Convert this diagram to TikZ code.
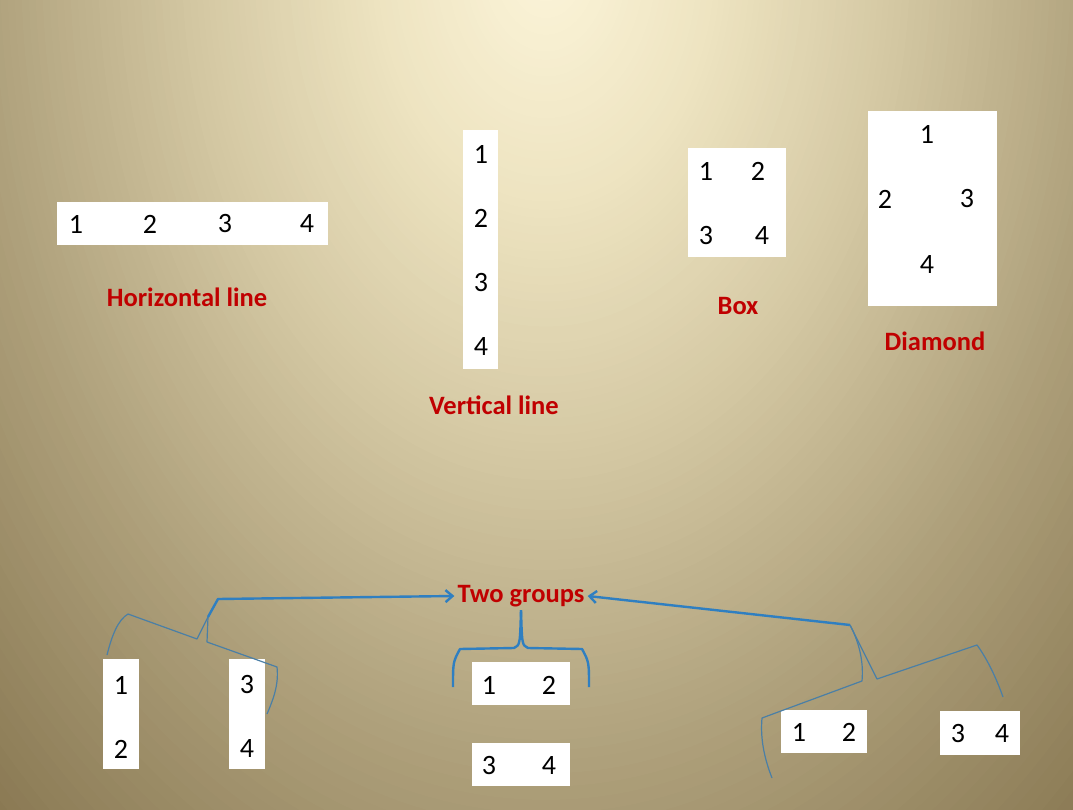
\documentclass[tikz,border=0pt]{standalone}
\usepackage{fontspec}
\setmainfont{Carlito}
\usetikzlibrary{arrows.meta}
\definecolor{bgA}{HTML}{FCF5DA}
\definecolor{bgB}{HTML}{EDE3C0}
\definecolor{bgC}{HTML}{D4C8A3}
\definecolor{bgD}{HTML}{AFA17C}
\definecolor{bgE}{HTML}{86754F}
\definecolor{capred}{HTML}{C00000}
\definecolor{linkblue}{HTML}{2F7FC1}
\definecolor{thinblue}{HTML}{4A7FA6}
\tikzset{
  num/.style={font=\fontsize{28}{32}\selectfont, inner sep=0pt},
  caption/.style={font=\bfseries\fontsize{26.5}{30}\selectfont, text=capred, inner sep=0pt},
  card/.style={fill=white, draw=none, inner sep=0pt},
  brace/.style={draw=thinblue, line width=1.2pt, line join=round},
  bigbrace/.style={draw=linkblue, line width=2.4pt, line join=round},
  link/.style={draw=linkblue, line width=2.4pt, line join=round, -{Straight Barb[length=7pt,width=12pt]}}
}
\begin{document}
\begin{tikzpicture}[x=1pt, y=-1pt]
      \useasboundingbox (0,0) rectangle (1073,810);
      \begin{scope}
        \clip (0,0) rectangle (1073,810);
        \fill[bgE] (0,0) rectangle (1073,810);
        \foreach \ra/\rb/\ca/\cb in {0.8/1.2/bgD/bgE, 0.5/0.8/bgC/bgD, 0.25/0.5/bgB/bgC, 0/0.25/bgA/bgB}{
          \foreach \i in {30,...,1}{
            \pgfmathsetmacro\rr{\ra+(\rb-\ra)*\i/30}
            \pgfmathtruncatemacro\mix{100*\i/30}
            \fill[color=\cb!\mix!\ca] (546,-40) ellipse [x radius=700*\rr, y radius=1000*\rr];
          }
        }
      \end{scope}
      \path
        (192.5,223.5) node[card, minimum width=271pt, minimum height=43pt] (hcard){}
        (480.5,249.5) node[card, minimum width=35pt, minimum height=239pt] (vcard){}
        (737,202.5) node[card, minimum width=98pt, minimum height=109pt] (bcard){}
        (932.5,208.5) node[card, minimum width=129pt, minimum height=195pt] (dcard){}
        (121,714) node[card, minimum width=36pt, minimum height=110pt] (lacard){}
        (247,714) node[card, minimum width=36pt, minimum height=110pt] (lbcard){}
        (521,683.5) node[card, minimum width=98pt, minimum height=43pt] (macard){}
        (521,764.5) node[card, minimum width=98pt, minimum height=43pt] (mbcard){}
        (824,731.5) node[card, minimum width=86pt, minimum height=43pt] (racard){}
        (980,733) node[card, minimum width=80pt, minimum height=44pt] (rbcard){};
      \path
        (76,224) node[num] (h1){1}
        (150,224) node[num] (h2){2}
        (225,224) node[num] (h3){3}
        (307,224) node[num] (h4){4}
        (481,154) node[num] (v1){1}
        (481,218) node[num] (v2){2}
        (481,283) node[num] (v3){3}
        (481,347) node[num] (v4){4}
        (706,171) node[num] (b1){1}
        (758,171) node[num] (b2){2}
        (706,236) node[num] (b3){3}
        (762,236) node[num] (b4){4}
        (927,134) node[num] (d1){1}
        (885,199) node[num] (d2){2}
        (967,199) node[num] (d3){3}
        (927,265) node[num] (d4){4}
        (121,685) node[num] (la1){1}
        (121,749) node[num] (la2){2}
        (247,685) node[num] (lb3){3}
        (247,749) node[num] (lb4){4}
        (489,685) node[num] (ma1){1}
        (549,685) node[num] (ma2){2}
        (489,766) node[num] (mb3){3}
        (549,766) node[num] (mb4){4}
        (799,732) node[num] (ra1){1}
        (849,732) node[num] (ra2){2}
        (958,734) node[num] (rb3){3}
        (1002,734) node[num] (rb4){4};
      \path
        (187,297) node[caption] (hlab){Horizontal line}
        (494,405) node[caption] (vlab){Vertical line}
        (738,306) node[caption] (blab){Box}
        (935,341) node[caption] (dlab){Diamond}
        (521,596) node[caption, inner sep=3pt] (two){Two groups};
      \coordinate (ltip) at (208,617);
      \coordinate (lbend) at (218,599);
      \coordinate (rtip) at (850,625);
      \begin{scope}
        \draw[brace] (107,655) .. controls (112,635) and (118,620) .. (128,614) -- (197,639) -- (ltip);
        \draw[brace] (ltip) -- (207,642) -- (277,667) .. controls (279,685) and (273,700) .. (267,714);
        \draw[link] (ltip) -- (lbend) -- (two.west);
        \draw[bigbrace] (453,687) .. controls (453,662) .. (460,649) -- (514,648) .. controls (520,645) .. (two.south);
        \draw[bigbrace] (two.south) .. controls (522,645) .. (528,648) -- (582,649) .. controls (589,662) .. (589,687);
        \draw[link] (rtip) -- (two.east);
        \draw[brace] (rtip) .. controls (858,640) and (864,660) .. (862,681) -- (762,718) .. controls (760,740) and (765,760) .. (772,778);
        \draw[brace] (rtip) -- (877,679) -- (977,645) .. controls (988,660) and (997,680) .. (1003,697);
      \end{scope}
    \end{tikzpicture}
\end{document}
